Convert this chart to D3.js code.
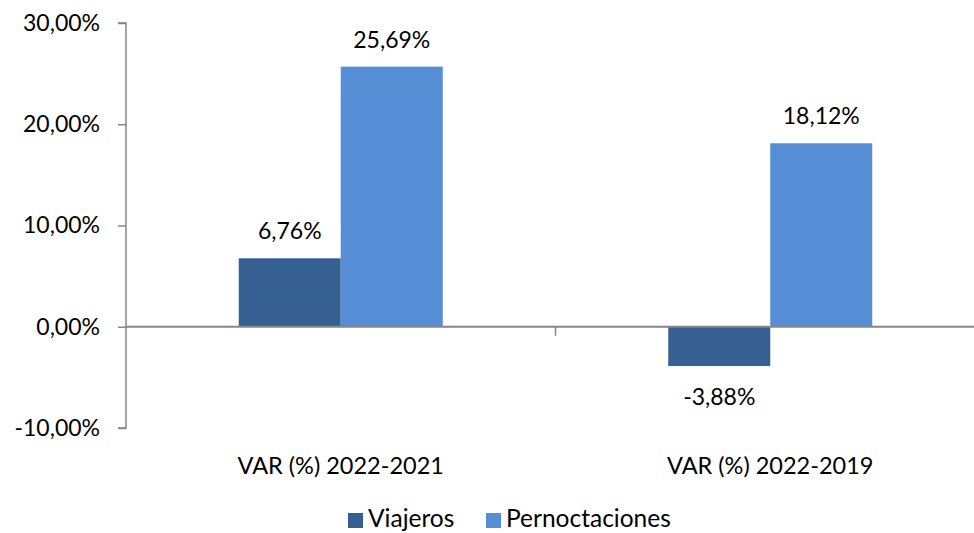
<!DOCTYPE html>
<html>
<head>
<meta charset="utf-8">
<script src="https://cdn.jsdelivr.net/npm/d3@7"></script>
<style>
  body { margin: 0; background: #fff; }
  svg text { font-family: Lato, "Open Sans", sans-serif; fill: #000; }
</style>
</head>
<body>
<svg width="974" height="533"></svg>
<script>
var categories = ['VAR (%) 2022-2021', 'VAR (%) 2022-2019']
var seriesNames = ['Viajeros', 'Pernoctaciones']
var viajeros = [6.76, -3.88]
var pernoctaciones = [25.69, 18.12]
var yTicks = [-10, 0, 10, 20, 30]

var colors = ['#366092', '#558ed5']
var axisColor = '#868686'
var numSize = 23
var catSize = 23.5
var legendSize = 24.5

var svg = d3.select('svg')

var x = d3.scaleBand()
    .domain(categories)
    .range([126, 985])

var y = d3.scaleLinear()
    .domain([-10, 30])
    .range([428, 23])

var barW = 102

var fmt = function (v) {
  return v.toFixed(2).replace('.', ',') + '%'
}

var rows = categories.map(function (c, i) {
  return { cat: c, values: [viajeros[i], pernoctaciones[i]] }
})

// bars
var groups = svg.selectAll('g.cat')
    .data(rows)
    .enter()
    .append('g')
    .attr('class', 'cat')

groups.each(function (d) {
  var g = d3.select(this)
  var cx = x(d.cat) + x.bandwidth() / 2
  d.values.forEach(function (v, j) {
    var x0 = cx - barW + j * barW
    g.append('rect')
        .attr('x', x0)
        .attr('width', barW)
        .attr('y', y(Math.max(0, v)))
        .attr('height', Math.abs(y(v) - y(0)))
        .attr('fill', colors[j])
    g.append('text')
        .attr('x', x0 + barW / 2)
        .attr('y', v >= 0 ? y(v) - 19 : y(v) + 39)
        .attr('text-anchor', 'middle')
        .style('font-size', numSize + 'px')
        .text(fmt(v))
  })
})

// y axis
var yAxis = svg.append('g')
    .attr('transform', 'translate(126,0)')
    .call(d3.axisLeft(y).tickValues(yTicks).tickSize(8).tickPadding(18).tickFormat(fmt))
yAxis.select('.domain').attr('stroke', axisColor).attr('stroke-width', 1.5)
    .attr('d', 'M-8,' + y(30) + 'H0V' + y(-10) + 'H-8')
yAxis.selectAll('.tick line').attr('stroke', axisColor).attr('stroke-width', 1.5)
yAxis.selectAll('.tick text')
    .style('font-size', numSize + 'px')
    .style('font-family', 'Lato, "Open Sans", sans-serif')
    .attr('fill', '#000')

// x axis at zero
var xAxis = svg.append('g')
    .attr('transform', 'translate(0,' + y(0) + ')')
    .call(d3.axisBottom(x).tickSize(0).tickPadding(0))
xAxis.select('.domain').attr('stroke', axisColor).attr('stroke-width', 2)
    .attr('d', 'M126,0H985')
xAxis.selectAll('.tick text').remove()
xAxis.selectAll('.tick line').remove()

// separators between categories
svg.selectAll('line.sep')
    .data(categories.slice(1))
    .enter()
    .append('line')
    .attr('class', 'sep')
    .attr('x1', d => x(d))
    .attr('x2', d => x(d))
    .attr('y1', y(0))
    .attr('y2', y(0) + 9)
    .attr('stroke', axisColor)
    .attr('stroke-width', 1.5)

// category labels
svg.selectAll('text.cat-label')
    .data(categories)
    .enter()
    .append('text')
    .attr('class', 'cat-label')
    .attr('x', d => x(d) + x.bandwidth() / 2)
    .attr('y', 474)
    .attr('text-anchor', 'middle')
    .style('font-size', catSize + 'px')
    .text(d => d)

// legend
var legendX = [348, 486]
var legend = svg.selectAll('g.legend')
    .data(seriesNames)
    .enter()
    .append('g')
    .attr('class', 'legend')
    .attr('transform', (d, i) => `translate(${legendX[i]}, 513)`)

legend.append('rect')
    .attr('width', 15)
    .attr('height', 15)
    .attr('fill', (d, i) => colors[i])

legend.append('text')
    .attr('x', 20)
    .attr('y', 14)
    .style('font-size', legendSize + 'px')
    .text(d => d)
</script>
</body>
</html>
